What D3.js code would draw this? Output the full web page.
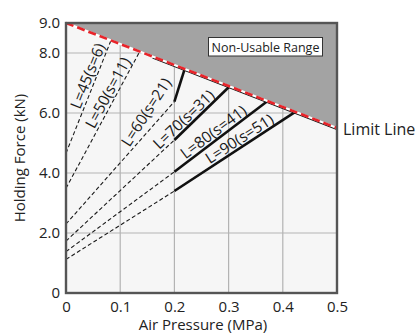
<!DOCTYPE html>
<html>
<head>
<meta charset="utf-8">
<script src="https://cdn.jsdelivr.net/npm/d3@7"></script>
<style>
  html, body { margin: 0; padding: 0; background: #ffffff; }
  svg { display: block; font-family: "Open Sans", "Noto Sans", sans-serif; }
</style>
</head>
<body>
<svg id="chart" width="416" height="333"></svg>
<script>
// Axis ticks
const pressureTicks = [0, 0.1, 0.2, 0.3, 0.4, 0.5];
const pressureTickLabels = ["0", "0.1", "0.2", "0.3", "0.4", "0.5"];
const forceTicks = [0, 2, 4, 6, 8, 9];
const forceTickLabels = ["0", "2.0", "4.0", "6.0", "8.0", "9.0"];

// Limit line (MPa, kN)
const limitPressure = [0, 0.5];
const limitForce = [9.0, 5.5];

// Lever length L and stroke s for each curve
const leverLengths = [45, 50, 60, 70, 80, 90];
const strokes = [6, 11, 21, 31, 41, 51];
// Holding force at 0 MPa
const forceAtZero = [4.66, 3.49, 2.30, 1.73, 1.38, 1.12];
// Minimum operating pressure and force there (null: curve ends before it)
const minPressure = 0.2;
const forceAtMin = [null, null, 6.38, 5.10, 4.04, 3.40];
// Where each curve meets the limit line
const endPressure = [0.083, 0.136, 0.219, 0.302, 0.372, 0.423];
const endForce = [8.42, 8.05, 7.47, 6.89, 6.40, 6.04];

const svg = d3.select("#chart");
const x = d3.scaleLinear().domain([0, 0.5]).range([66, 337]);
const y = d3.scaleLinear().domain([0, 9]).range([293, 23]);

// plot background
svg.append("rect")
  .attr("x", x(0)).attr("y", y(9))
  .attr("width", x(0.5) - x(0)).attr("height", y(0) - y(9))
  .attr("fill", "#f6f6f6");

// grid
const grid = svg.append("g").attr("stroke", "#b3b3b3").attr("stroke-width", 1.2);
grid.selectAll("line.v").data(pressureTicks.slice(1, -1)).join("line")
  .attr("x1", d => x(d)).attr("x2", d => x(d))
  .attr("y1", y(0)).attr("y2", y(9));
grid.selectAll("line.h").data(forceTicks.filter(d => d > 0 && d < 9)).join("line")
  .attr("x1", x(0)).attr("x2", x(0.5))
  .attr("y1", d => y(d)).attr("y2", d => y(d));

// non-usable region above the limit line
const limitPts = limitPressure.map((p, i) => [p, limitForce[i]]);
svg.append("path")
  .datum([[0, 9], [0.5, 9], limitPts[1], limitPts[0]])
  .attr("d", d3.line().x(d => x(d[0])).y(d => y(d[1])).curve(d3.curveLinearClosed))
  .attr("fill", "#a3a3a3");

// curves
const line = d3.line().x(d => x(d[0])).y(d => y(d[1]));
const curves = leverLengths.map((L, i) => {
  const start = [0, forceAtZero[i]];
  const end = [endPressure[i], endForce[i]];
  if (forceAtMin[i] == null) {
    return { L, s: strokes[i], dashed: [start, end], solid: null, all: [start, end] };
  }
  const mid = [minPressure, forceAtMin[i]];
  return { L, s: strokes[i], dashed: [start, mid], solid: [mid, end], all: [start, mid, end] };
});

const cg = svg.append("g").attr("fill", "none");
cg.selectAll("path.dash").data(curves).join("path")
  .attr("d", d => line(d.dashed))
  .attr("stroke", "#1a1a1a").attr("stroke-width", 1.1)
  .attr("stroke-dasharray", "4,2.5");
cg.selectAll("path.solid").data(curves.filter(d => d.solid)).join("path")
  .attr("d", d => line(d.solid))
  .attr("stroke", "#111").attr("stroke-width", 2.6)
  .attr("stroke-linecap", "butt");

// limit line: black edge, white base, red dashes
const limitAt = p => limitForce[0] + (limitForce[1] - limitForce[0]) * (p - limitPressure[0]) / (limitPressure[1] - limitPressure[0]);
svg.append("path")
  .datum([[0.16, limitAt(0.16)], limitPts[1]])
  .attr("d", line).attr("fill", "none")
  .attr("stroke", "#111").attr("stroke-width", 2.4)
  .attr("transform", "translate(0,0.9)");
svg.append("path")
  .datum(limitPts).attr("d", line).attr("fill", "none")
  .attr("stroke", "#ffffff").attr("stroke-width", 2.2);
svg.append("path")
  .datum(limitPts).attr("d", line).attr("fill", "none")
  .attr("stroke", "#e8242a").attr("stroke-width", 2.6)
  .attr("stroke-dasharray", "8,4");

// curve labels, parallel to each curve (L=60 tilted a little steeper to clear its solid part)
const labelAt = [0.031, 0.057, 0.122, 0.176, 0.224, 0.268];
const labelTilt = [null, null, -57, null, null, null];
const lg = svg.append("g").attr("font-size", "15.5px").attr("fill", "#1a1a1a");
curves.forEach((c, i) => {
  const p = labelAt[i];
  const seg = c.all.length === 3 && p >= minPressure ? [c.all[1], c.all[2]] : [c.all[0], c.all[1]];
  const t = (p - seg[0][0]) / (seg[1][0] - seg[0][0]);
  const f = seg[0][1] + t * (seg[1][1] - seg[0][1]);
  const a = c.all[0], b = c.all[c.all.length - 1];
  const ang = labelTilt[i] != null ? labelTilt[i]
    : Math.atan2(y(b[1]) - y(a[1]), x(b[0]) - x(a[0])) * 180 / Math.PI;
  lg.append("text")
    .attr("transform", `translate(${x(p)},${y(f)}) rotate(${ang})`)
    .attr("dy", -3)
    .text(`L=${c.L}(s=${c.s})`);
});

// frame
svg.append("rect")
  .attr("x", x(0)).attr("y", y(9))
  .attr("width", x(0.5) - x(0)).attr("height", y(0) - y(9))
  .attr("fill", "none").attr("stroke", "#555555").attr("stroke-width", 2.4);

// axes
const xAxis = svg.append("g")
  .attr("transform", `translate(0,${y(0)})`)
  .call(d3.axisBottom(x).tickValues(pressureTicks)
    .tickFormat((d, i) => pressureTickLabels[i]).tickSize(0).tickPadding(8));
const yAxis = svg.append("g")
  .attr("transform", `translate(${x(0)},0)`)
  .call(d3.axisLeft(y).tickValues(forceTicks)
    .tickFormat((d, i) => forceTickLabels[i]).tickSize(0).tickPadding(6));
[xAxis, yAxis].forEach(g => {
  g.select(".domain").remove();
  g.selectAll("text").attr("font-size", "15px").attr("fill", "#222")
    .attr("font-family", "Open Sans, Noto Sans, sans-serif");
});

// axis titles
svg.append("text")
  .attr("x", 203).attr("y", 329.5)
  .attr("text-anchor", "middle").attr("font-size", "15px").attr("fill", "#222")
  .text("Air Pressure (MPa)");
svg.append("text")
  .attr("transform", `translate(25,${(y(0) + y(9)) / 2}) rotate(-90)`)
  .attr("text-anchor", "middle").attr("font-size", "15px").attr("fill", "#222")
  .text("Holding Force (kN)");

// region tag
svg.append("rect")
  .attr("x", 208.5).attr("y", 37.5).attr("width", 114).attr("height", 18.5)
  .attr("fill", "#ffffff").attr("stroke", "#333").attr("stroke-width", 1);
svg.append("text")
  .attr("x", 265.5).attr("y", 51.5).attr("text-anchor", "middle")
  .attr("font-size", "12.5px").attr("fill", "#222")
  .text("Non-Usable Range");

// limit line tag
svg.append("text")
  .attr("x", x(0.5) + 6).attr("y", y(limitForce[1]) + 6.5)
  .attr("font-size", "16px").attr("fill", "#222")
  .text("Limit Line");
</script>
</body>
</html>
